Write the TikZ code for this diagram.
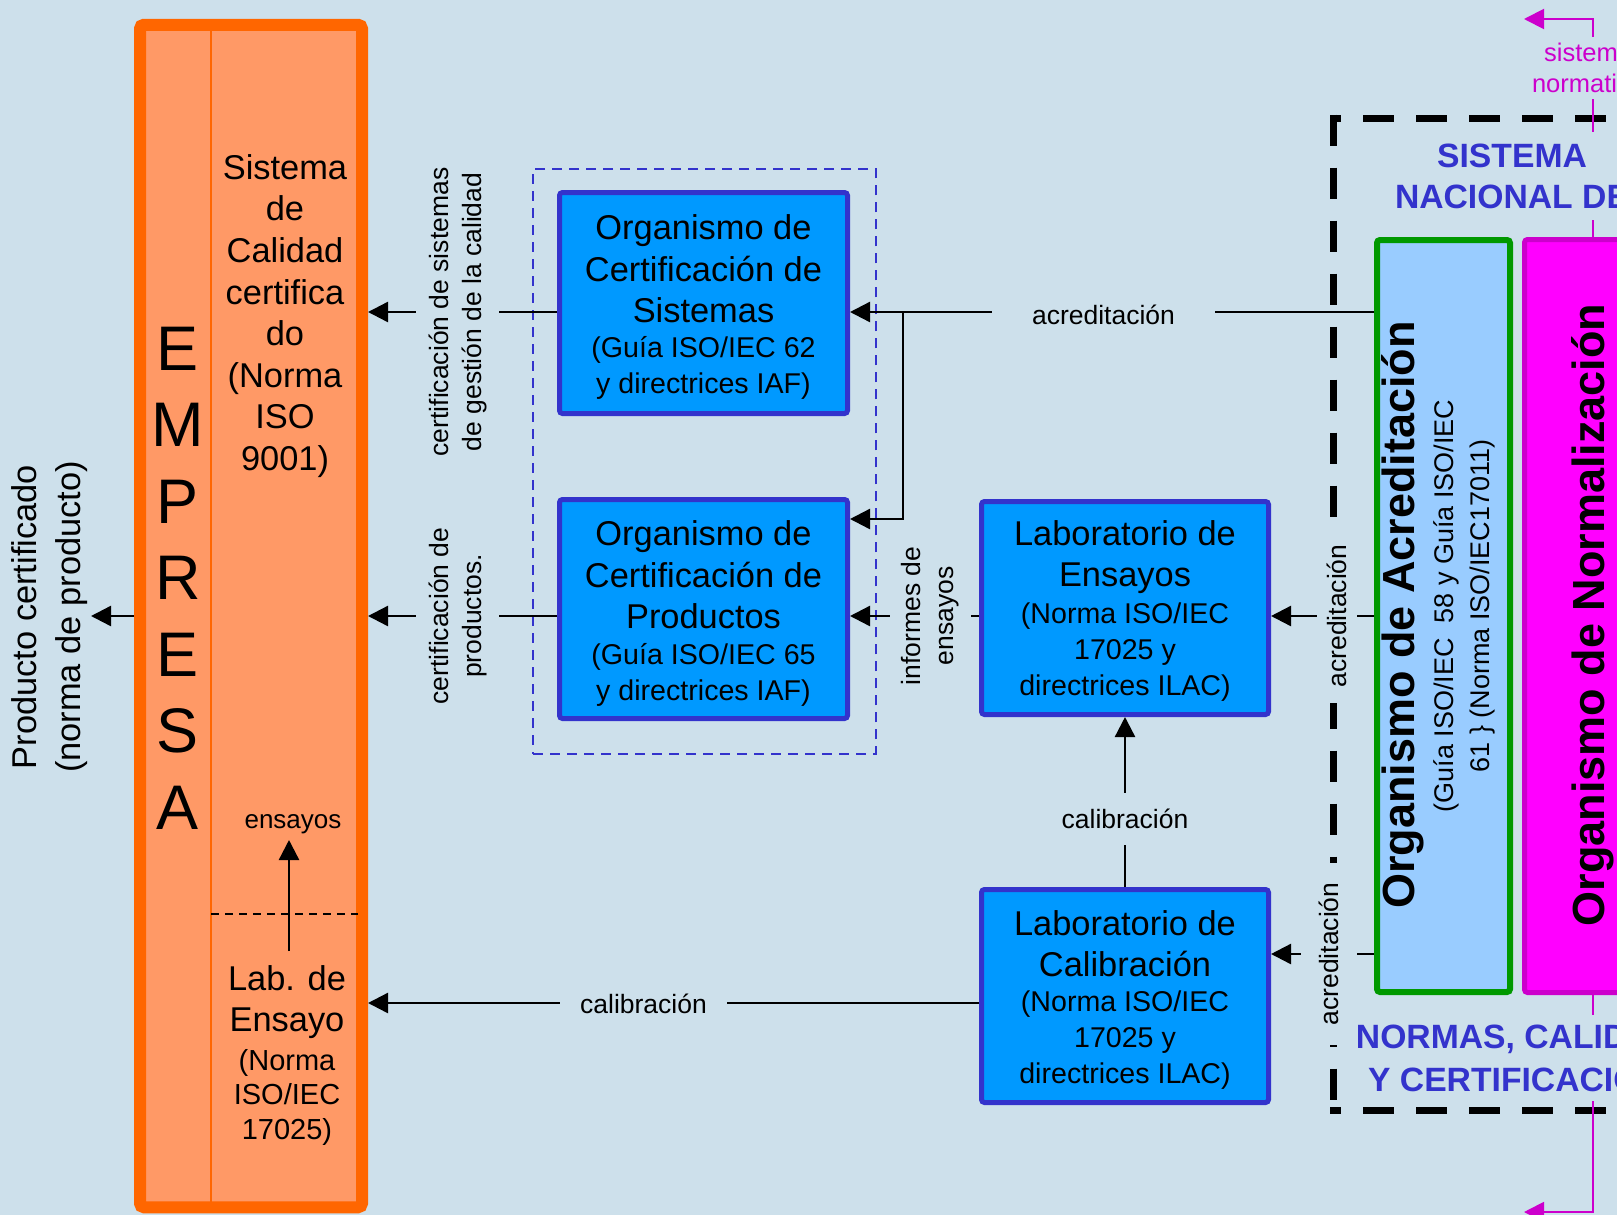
\documentclass[tikz,border=0pt]{standalone}
\usepackage{fontspec}
\setmainfont{Liberation Sans}
\usetikzlibrary{arrows.meta}
\definecolor{bg}{RGB}{205,224,235}
\definecolor{boxblue}{RGB}{0,153,255}
\definecolor{edgeblue}{RGB}{51,51,204}
\definecolor{orangeE}{RGB}{255,102,0}
\definecolor{orangeF}{RGB}{255,153,102}
\definecolor{acredF}{RGB}{153,204,255}
\definecolor{greenE}{RGB}{0,153,0}
\definecolor{magF}{RGB}{255,0,255}
\definecolor{magE}{RGB}{204,0,204}
\newcommand\myfs[2]{\fontsize{#1}{#2}\selectfont}
\begin{document}
\begin{tikzpicture}[x=0.5pt,y=-0.5pt,
  orgbox/.style={draw=edgeblue, fill=boxblue, line width=2.5pt, rounded corners=1.5pt,
    minimum width=144pt, minimum height=110.5pt, inner sep=0pt},
  big/.style={align=center, font=\myfs{17.2}{20.8}, inner sep=0pt},
  small/.style={align=center, font=\myfs{14.3}{18}, inner sep=0pt},
  lbl/.style={fill=bg, font=\myfs{13.25}{16.5}, align=center, inner sep=3pt},
  arr/.style={line width=1.2pt, -{Triangle[length=10pt,width=10pt]}},
  marr/.style={magE, line width=1pt, -{Triangle[length=10pt,width=10pt]}},
  bigdash/.style={line width=3.5pt, dash pattern=on 15.5pt off 11pt},
  heading/.style={fill=bg, text=edgeblue, align=center, font=\bfseries\myfs{16.85}{20.5}},
]
\useasboundingbox (0,0) rectangle (1617,1215);
\clip (0,0) rectangle (1617,1215);
\fill[bg] (0,0) rectangle (1617,1215);

% helper coordinates
\coordinate (y312) at (0,312);
\coordinate (y616) at (0,616);
\coordinate (y519) at (0,519);
\coordinate (y954) at (0,954);
\coordinate (y1003) at (0,1003);
\coordinate (br) at (903,312);
\coordinate (ptip) at (91,616);
\coordinate (esrc) at (289,951);
\coordinate (etip) at (289,840);
\coordinate (mtop) at (1593,19);
\coordinate (mtip) at (1524,19);
\coordinate (mbot) at (1593,1212);
\coordinate (mbtip) at (1524,1212);

% big black dashed frame
\draw[bigdash, dash phase=10pt] (1330,118) -- (1660,118);
\draw[bigdash] (1333,114.5) -- (1333,1113.5);
\draw[bigdash, dash phase=10pt] (1330,1110) -- (1660,1110);

% blue dashed frame
\node[draw=edgeblue, line width=1.2pt, dash pattern=on 5pt off 3.5pt,
  minimum width=171.3pt, minimum height=292.3pt, inner sep=0pt] (cert) at (704.5,461.5) {};

% EMPRESA
\node[draw=orangeE, fill=orangeF, line width=6pt, rounded corners=2pt,
  minimum width=111pt, minimum height=591.25pt, inner sep=0pt] (emp) at (251,616) {};
\draw[orangeE, line width=1.2pt] (211,25) -- (211,1207);
\draw[line width=0.8pt, dash pattern=on 4pt off 3pt] (211,914) -- (358,914);
\node[align=center, font=\myfs{31.5}{38.25}, inner sep=0pt] (empt) at (178,578) {E\\M\\P\\R\\E\\S\\A};
\node[big, font=\myfs{17.2}{20.8}] (sq) at (285,316) {Sistema\\de\\Calidad\\certifica\\do\\(Norma\\ISO\\9001)};
\node[font=\myfs{13}{16}, inner sep=0pt] (ens) at (293,824) {ensayos};
\node[big] (lab) at (287,1002) {Lab. de\\Ensayo};
\node[align=center, font=\myfs{14.5}{17.25}, inner sep=0pt] (labn) at (287,1097) {(Norma\\ISO/IEC\\17025)};
\draw[arr] (esrc) -- (etip);

% Producto certificado
\node[rotate=90, align=center, font=\myfs{17.2}{22}, inner sep=0pt] (prod) at (50,617) {Producto certificado\\(norma de producto)};

% certification bodies
\node[orgbox] (sis) at (703.5,303) {};
\node[big] (sist) at (703.5,269) {Organismo de\\Certificación de\\Sistemas};
\node[small] (sisn) at (703.5,368) {(Guía ISO/IEC 62\\y directrices IAF)};

\node[orgbox, minimum height=109.5pt] (pro) at (703.5,609) {};
\node[big] (prot) at (703.5,575) {Organismo de\\Certificación de\\Productos};
\node[small] (pron) at (703.5,675) {(Guía ISO/IEC 65\\y directrices IAF)};

% laboratories
\node[orgbox, minimum width=143.5pt, minimum height=106.5pt] (lens) at (1125,608) {};
\node[big] (lenst) at (1125,557) {Laboratorio de\\Ensayos};
\node[small] (lensn) at (1125,652) {(Norma ISO/IEC\\17025 y\\directrices ILAC)};

\node[orgbox, minimum width=143.5pt, minimum height=106.5pt] (lcal) at (1125,996) {};
\node[big] (lcalt) at (1125,943.5) {Laboratorio de\\Calibración};
\node[small] (lcaln) at (1125,1040) {(Norma ISO/IEC\\17025 y\\directrices ILAC)};

% Acreditación and Normalización
\node[draw=greenE, fill=acredF, line width=3pt, rounded corners=1.5pt,
  minimum width=66.5pt, minimum height=376pt, inner sep=0pt] (acr) at (1443.5,616) {};
\node[rotate=90, font=\bfseries\myfs{22.5}{27}, inner sep=0pt] (acrt) at (1403,615) {Organismo de Acreditación};
\node[rotate=90, align=center, font=\myfs{13.5}{18}, inner sep=0pt] (acrn) at (1464,606)
  {(Guía ISO/IEC\ \ 58 y Guía ISO/IEC\\61 \} (Norma ISO/IEC17011)};

\node[draw=magE, fill=magF, line width=2.5pt, rounded corners=1.5pt,
  minimum width=100pt, minimum height=376.5pt, inner sep=0pt] (norm) at (1624.5,616) {};
\node[rotate=90, font=\bfseries\myfs{22.5}{27}, inner sep=0pt] (normt) at (1593,615) {Organismo de Normalización};

% magenta connectors
\draw[marr] (norm.north -| mtop) -- (mtop) -- (mtip);
\draw[marr] (norm.south -| mbot) -- (mbot) -- (mbtip);

% connectors
\draw[arr] (sis.west |- y312) -- (emp.east |- y312);
\draw[arr] (pro.west |- y616) -- (emp.east |- y616);
\draw[arr] (acr.west |- y312) -- (sis.east |- y312);
\draw[arr] (br) -- (br |- y519) -- (pro.east |- y519);
\draw[arr] (lens.west |- y616) -- (pro.east |- y616);
\draw[arr] (acr.west |- y616) -- (lens.east |- y616);
\draw[arr] (acr.west |- y954) -- (lcal.east |- y954);
\draw[arr] (lcal.north) -- (lens.south);
\draw[arr] (lcal.west |- y1003) -- (emp.east |- y1003);
\draw[arr] (emp.west) -- (ptip);

% connector labels
\node[lbl, rotate=90, inner sep=6pt] (l1) at (457.5,312) {certificación de sistemas\\de gestión de la calidad};
\node[lbl, rotate=90, inner sep=6pt] (l2) at (457.5,616) {certificación de\\productos.};
\node[lbl, inner xsep=20pt] (l3) at (1103.5,315) {acreditación};
\node[lbl, rotate=90, inner sep=6pt] (l4) at (930.5,616) {informes de\\ensayos};
\node[lbl, rotate=90, inner xsep=8pt, inner ysep=5pt] (l5) at (1337,616) {acreditación};
\node[lbl, rotate=90, inner xsep=10pt, inner ysep=9pt] (l6) at (1329,954) {acreditación};
\node[lbl, inner ysep=8pt] (l7) at (1125,819) {calibración};
\node[lbl, inner xsep=10pt] (l8) at (643.5,1004) {calibración};

% headings
\node[fill=bg, text=magE, align=center, font=\myfs{12.75}{15.5}, inner sep=3pt] (sn) at (1588,68) {sistema\\normativo};
\node[heading, inner xsep=2pt, inner ysep=6pt] (snt) at (1512,176) {SISTEMA\\NACIONAL DE};
\node[heading, inner xsep=2pt, inner ysep=5pt, font=\bfseries\myfs{16.85}{21.5}] (nct) at (1516,1058) {NORMAS, CALIDAD\\Y CERTIFICACIÓN};
\end{tikzpicture}
\end{document}
